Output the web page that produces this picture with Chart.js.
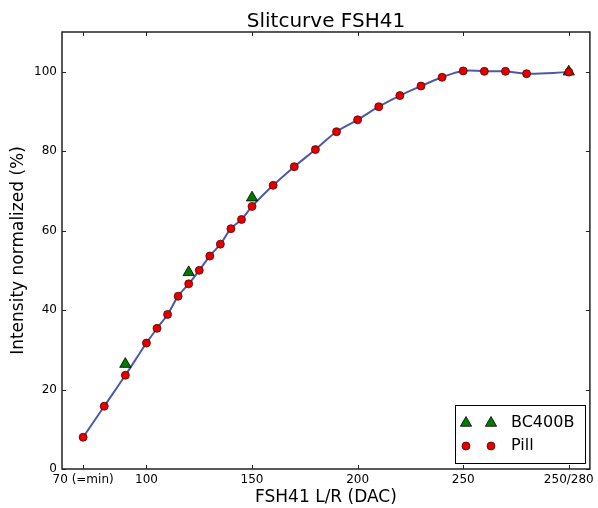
<!DOCTYPE html>
<html>
<head>
<meta charset="utf-8">
<script src="https://cdn.jsdelivr.net/npm/chart.js@4.4.0/dist/chart.umd.min.js"></script>
<style>
  html, body { margin: 0; padding: 0; background: #fff; }
</style>
</head>
<body>
<canvas id="chart" width="598" height="508"></canvas>
<script>
// Pill measurements (red dots + blue curve)
const pillX = [70, 80, 90, 100, 105, 110, 115, 120, 125, 130, 135, 140, 145, 150, 160, 170, 180, 190, 200, 210, 220, 230, 240, 250, 260, 270, 280, 300];
const pillY = [8.0, 15.8, 23.6, 31.7, 35.4, 38.9, 43.5, 46.6, 50.0, 53.6, 56.6, 60.5, 62.8, 66.1, 71.4, 76.1, 80.4, 84.9, 87.9, 91.2, 94.0, 96.4, 98.6, 100.2, 100.1, 100.1, 99.5, 99.9];

// BC400B measurements (green triangles)
const bcX = [90, 120, 150, 300];
const bcY = [26.4, 49.5, 68.3, 100.0];

// Axis ticks
const xTickVals = [70, 100, 150, 200, 250, 300];
const xTickLabels = ["70 (=min)", "100", "150", "200", "250", "250/280"];
const yTickVals = [0, 20, 40, 60, 80, 100];

const FONT = "DejaVu Sans";
const lineColor = "#4b5aa8";
const dotColor = "#e00000";
const triColor = "#007a00";

Chart.defaults.color = "#000";
Chart.defaults.font.family = FONT;

const toPoints = (xs, ys) => xs.map((x, i) => ({ x: x, y: ys[i] }));

// Frame, inside ticks, title and legend, matplotlib style
const decorations = {
  id: "decorations",
  afterDatasetsDraw(chart) {
    const ctx = chart.ctx;
    const a = chart.chartArea;
    const xs = chart.scales.x, ys = chart.scales.y;
    ctx.save();
    ctx.strokeStyle = "#222";
    ctx.lineWidth = 1;
    ctx.beginPath();
    xTickVals.forEach(v => {
      const px = Math.round(xs.getPixelForValue(v)) + 0.5;
      ctx.moveTo(px, a.bottom); ctx.lineTo(px, a.bottom - 4);
      ctx.moveTo(px, a.top); ctx.lineTo(px, a.top + 4);
    });
    yTickVals.forEach(v => {
      const py = Math.round(ys.getPixelForValue(v)) + 0.5;
      ctx.moveTo(a.left, py); ctx.lineTo(a.left + 4, py);
      ctx.moveTo(a.right, py); ctx.lineTo(a.right - 4, py);
    });
    ctx.stroke();

    ctx.lineWidth = 1.5;
    ctx.strokeRect(a.left, a.top, a.right - a.left, a.bottom - a.top);

    // title
    ctx.fillStyle = "#000";
    ctx.font = "20px '" + FONT + "'";
    ctx.textAlign = "center";
    ctx.textBaseline = "alphabetic";
    ctx.fillText("Slitcurve FSH41", (a.left + a.right) / 2, 27);

    // legend
    const bx = 455, by = 405, bw = 130, bh = 58;
    ctx.fillStyle = "#fff";
    ctx.fillRect(bx, by, bw, bh);
    ctx.lineWidth = 1;
    ctx.strokeStyle = "#000";
    ctx.strokeRect(bx + 0.5, by + 0.5, bw, bh);
    const rows = [
      { label: "BC400B", y: 423, style: "triangle", r: 6.5, fill: triColor, stroke: "#000" },
      { label: "Pill", y: 446, style: "circle", r: 4, fill: dotColor, stroke: "#600000" }
    ];
    rows.forEach(row => {
      ctx.fillStyle = row.fill;
      ctx.strokeStyle = row.stroke;
      ctx.lineWidth = 0.8;
      [466, 491].forEach(mx => {
        Chart.helpers.drawPoint(ctx, { pointStyle: row.style, radius: row.r, borderWidth: 0.8 }, mx, row.y);
      });
      ctx.fillStyle = "#000";
      ctx.font = "16px '" + FONT + "'";
      ctx.textAlign = "left";
      ctx.textBaseline = "middle";
      ctx.fillText(row.label, 511, row.y);
    });
    ctx.restore();
  }
};

new Chart(document.getElementById("chart"), {
  type: "scatter",
  data: {
    datasets: [
      {
        label: "curve",
        type: "line",
        data: toPoints(pillX, pillY),
        borderColor: lineColor,
        borderWidth: 2,
        pointRadius: 0,
        tension: 0.4,
        fill: false,
        order: 3
      },
      {
        label: "BC400B",
        data: toPoints(bcX, bcY),
        pointStyle: "triangle",
        pointRadius: 6.5,
        backgroundColor: triColor,
        borderColor: "#000",
        borderWidth: 0.8,
        order: 2
      },
      {
        label: "Pill",
        data: toPoints(pillX, pillY),
        pointStyle: "circle",
        pointRadius: 4,
        backgroundColor: dotColor,
        borderColor: "#600000",
        borderWidth: 0.8,
        order: 1
      }
    ]
  },
  options: {
    responsive: false,
    animation: false,
    layout: { padding: { top: 32, right: 6, bottom: 0, left: 0 } },
    plugins: {
      legend: { display: false },
      tooltip: { enabled: false },
      title: { display: false }
    },
    scales: {
      x: {
        type: "linear",
        min: 60,
        max: 310,
        grid: { display: false, drawTicks: false },
        border: { display: false },
        afterBuildTicks: s => { s.ticks = xTickVals.map(v => ({ value: v })); },
        afterFit: s => { s.height = 39; },
        ticks: {
          font: { size: 12 },
          padding: 4,
          maxRotation: 0,
          autoSkip: false,
          callback: v => xTickLabels[xTickVals.indexOf(v)]
        },
        title: {
          display: true,
          text: "FSH41 L/R (DAC)",
          font: { size: 17 },
          padding: 0
        }
      },
      y: {
        min: 0,
        max: 110,
        grid: { display: false, drawTicks: false },
        border: { display: false },
        afterBuildTicks: s => { s.ticks = yTickVals.map(v => ({ value: v })); },
        afterFit: s => { s.width = 62; },
        ticks: {
          font: { size: 12 },
          padding: 5
        },
        title: {
          display: true,
          text: "Intensity normalized (%)",
          font: { size: 17 },
          padding: { top: 8, bottom: 0 }
        }
      }
    }
  },
  plugins: [decorations]
});
</script>
</body>
</html>
